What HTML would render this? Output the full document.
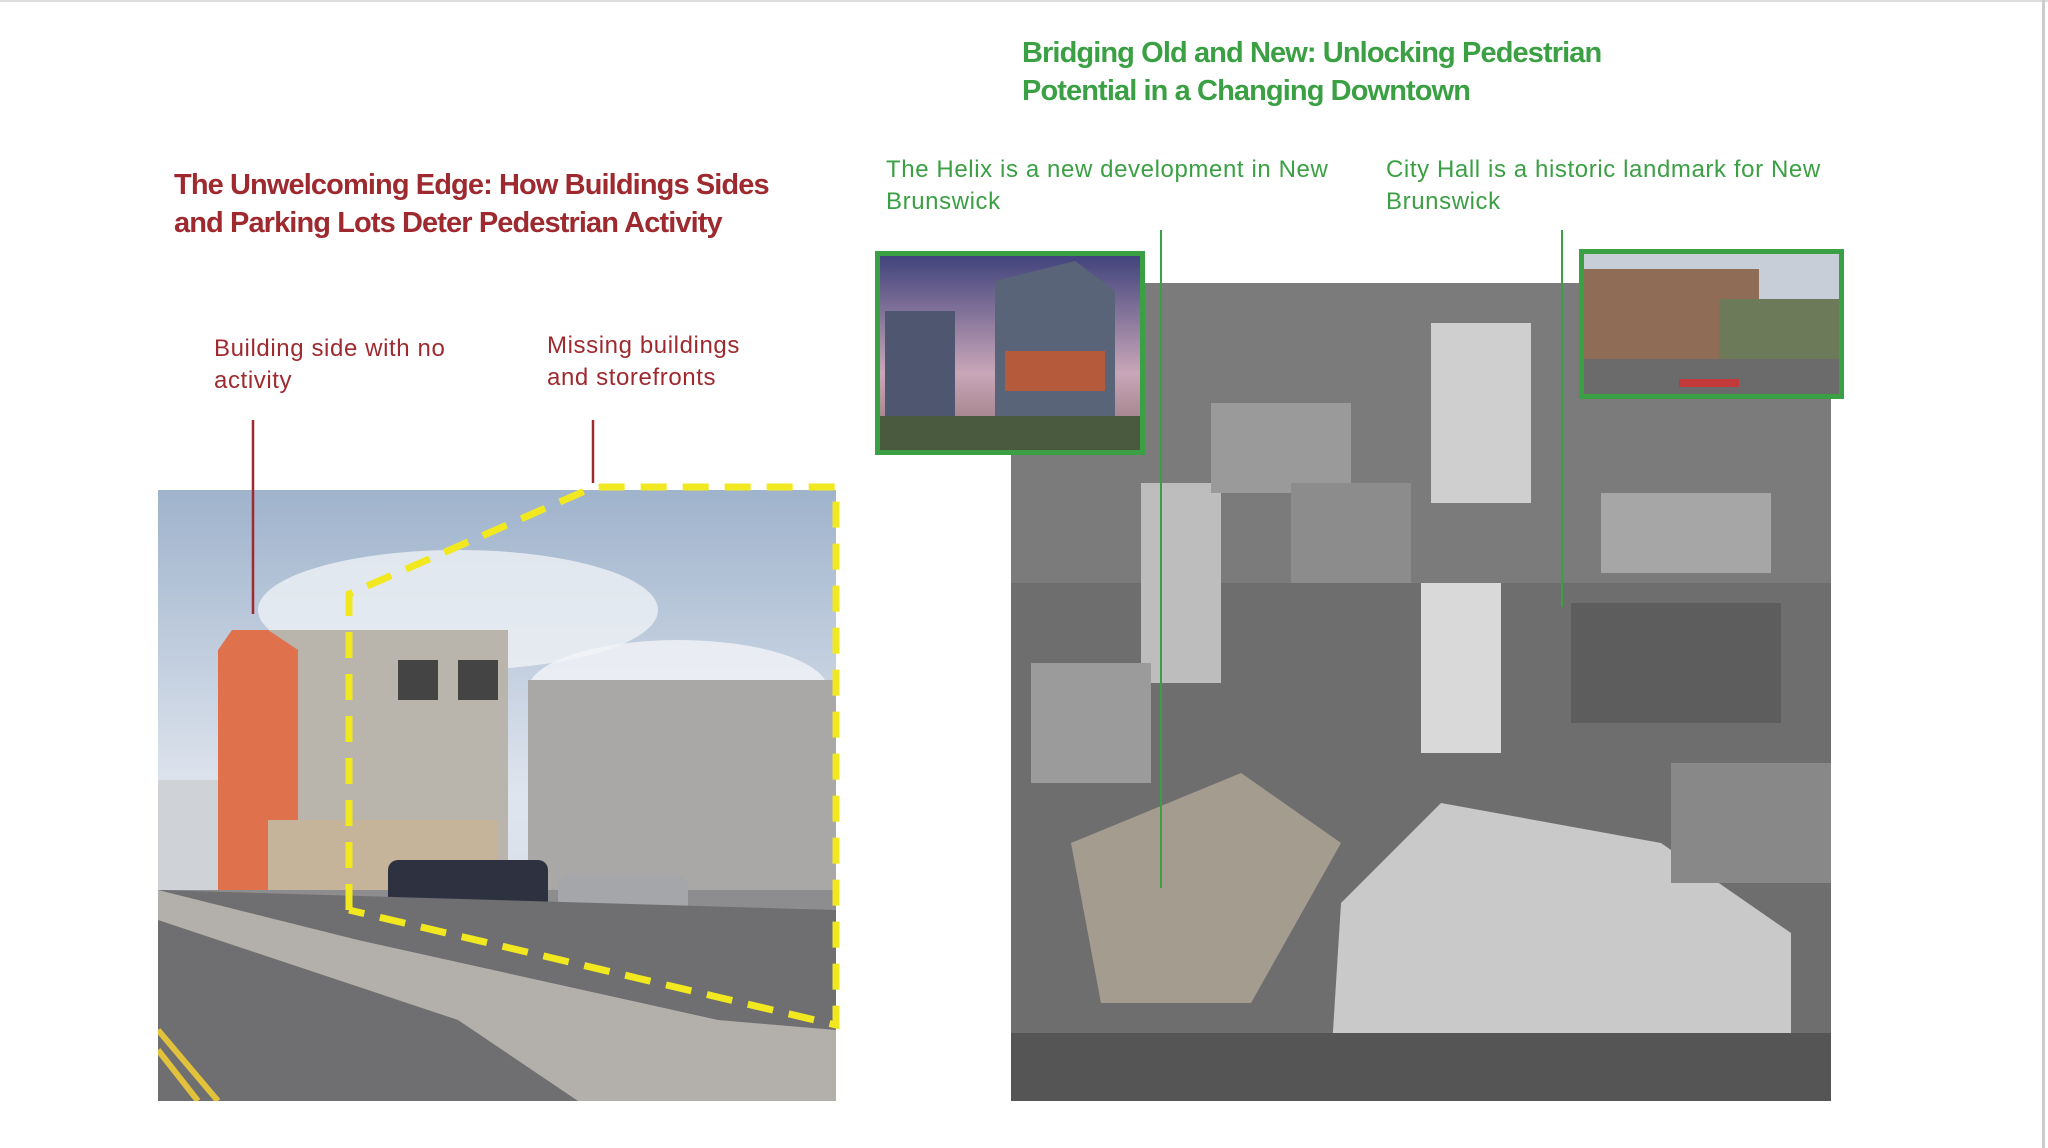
<!DOCTYPE html>
<html><head><meta charset="utf-8"><style>
body{margin:0;width:2048px;height:1148px;background:#fff;position:relative;overflow:hidden;font-family:"Liberation Sans",sans-serif}
.a{position:absolute}
.red{color:#9e2a2f}.grn{color:#3aa043}
.t{font-weight:bold;font-size:29px;line-height:38px;letter-spacing:-0.9px}
.l{font-size:24px;line-height:32px;letter-spacing:0.6px}
</style></head><body>
<div class="a" style="left:0;top:0;width:2048px;height:2px;background:#ddd"></div>
<div class="a" style="left:2042px;top:0;width:3px;height:1148px;background:#ccc"></div>

<div class="a t red" style="left:174px;top:166px">The Unwelcoming Edge: How Buildings Sides<br>and Parking Lots Deter Pedestrian Activity</div>
<div class="a l red" style="left:214px;top:333px">Building side with no<br>activity</div>
<div class="a l red" style="left:547px;top:330px">Missing buildings<br>and storefronts</div>

<div class="a t grn" style="left:1022px;top:34px">Bridging Old and New: Unlocking Pedestrian<br>Potential in a Changing Downtown</div>
<div class="a l grn" style="left:886px;top:154px">The Helix is a new development in New<br>Brunswick</div>
<div class="a l grn" style="left:1386px;top:154px">City Hall is a historic landmark for New<br>Brunswick</div>

<!-- left photo -->
<svg class="a" style="left:158px;top:490px" width="678" height="611" viewBox="0 0 678 611">
<defs><linearGradient id="sky" x1="0" y1="0" x2="0" y2="1"><stop offset="0" stop-color="#9fb3cc"/><stop offset="0.5" stop-color="#dfe5ee"/><stop offset="1" stop-color="#c9d2de"/></linearGradient></defs>
<rect width="678" height="611" fill="url(#sky)"/>
<ellipse cx="300" cy="120" rx="200" ry="60" fill="#eef1f5" opacity=".8"/>
<ellipse cx="520" cy="200" rx="150" ry="50" fill="#f2f4f7" opacity=".8"/>
<rect x="0" y="290" width="100" height="200" fill="#cfd2d6"/>
<rect x="110" y="140" width="240" height="280" fill="#b9b5ad"/>
<rect x="240" y="170" width="40" height="40" fill="#444"/><rect x="300" y="170" width="40" height="40" fill="#444"/>
<polygon points="74,140 110,140 140,160 140,420 60,420 60,160" fill="#e0714d"/>
<rect x="110" y="330" width="230" height="90" fill="#c6b49a"/>
<rect x="370" y="190" width="308" height="230" fill="#a9a8a6"/>
<rect x="0" y="400" width="678" height="60" fill="#8d8d8f"/>
<rect x="230" y="370" width="160" height="60" rx="10" fill="#2e3140"/>
<rect x="400" y="385" width="130" height="50" rx="12" fill="#a5a6aa"/>
<polygon points="0,400 678,420 678,611 0,611" fill="#6f6f71"/>
<polygon points="0,400 200,450 560,530 678,540 678,611 420,611 300,530 0,430" fill="#b3b0ab"/>
<line x1="0" y1="540" x2="60" y2="611" stroke="#e2c23a" stroke-width="6"/>
<line x1="0" y1="560" x2="40" y2="611" stroke="#e2c23a" stroke-width="6"/>
</svg>
<svg class="a" style="left:0;top:0" width="2048" height="1148">
<line x1="253" y1="420" x2="253" y2="614" stroke="#9e2a2f" stroke-width="2.5"/>
<line x1="593" y1="420" x2="593" y2="483" stroke="#9e2a2f" stroke-width="2.5"/>
<polyline points="349,910 349,594 594,487 836,487 836,1025 349,910" fill="none" stroke="#f2e81f" stroke-width="7" stroke-dasharray="26,16"/>
</svg>

<!-- aerial -->
<svg class="a" style="left:1011px;top:283px" width="820" height="818" viewBox="0 0 820 818">
<rect width="820" height="818" fill="#6e6e6e"/>
<rect x="0" y="0" width="820" height="300" fill="#7b7b7b"/>
<rect x="420" y="40" width="100" height="180" fill="#cfcfcf"/>
<rect x="130" y="200" width="80" height="200" fill="#bdbdbd"/>
<rect x="410" y="300" width="80" height="170" fill="#d9d9d9"/>
<rect x="200" y="120" width="140" height="90" fill="#9a9a9a"/>
<rect x="590" y="210" width="170" height="80" fill="#a6a6a6"/>
<rect x="280" y="200" width="120" height="100" fill="#8c8c8c"/>
<rect x="20" y="380" width="120" height="120" fill="#9b9b9b"/>
<rect x="560" y="320" width="210" height="120" fill="#5d5d5d"/>
<polygon points="60,560 230,490 330,560 240,720 90,720" fill="#a59c90"/>
<polygon points="330,620 430,520 650,560 780,650 780,780 320,780" fill="#c9c9c9"/>
<rect x="0" y="750" width="820" height="68" fill="#555"/>
<rect x="660" y="480" width="160" height="120" fill="#888"/>
</svg>
<div class="a" style="left:1160px;top:230px;width:2px;height:658px;background:#3aa043"></div>
<div class="a" style="left:1561px;top:230px;width:2px;height:377px;background:#3aa043"></div>

<!-- helix inset -->
<svg class="a" style="left:875px;top:251px" width="270" height="204" viewBox="0 0 270 204">
<defs><linearGradient id="hs" x1="0" y1="0" x2="0" y2="1"><stop offset="0" stop-color="#3b3f7a"/><stop offset="0.6" stop-color="#c9a6b8"/><stop offset="1" stop-color="#8b6d70"/></linearGradient></defs>
<rect width="270" height="204" fill="url(#hs)"/>
<rect x="10" y="60" width="70" height="110" fill="#4e5670"/>
<polygon points="120,30 200,10 240,40 240,170 120,170" fill="#5a6478"/>
<rect x="130" y="100" width="100" height="40" fill="#b65a3c"/>
<rect x="0" y="165" width="270" height="39" fill="#4a5a3e"/>
<rect x="2.5" y="2.5" width="265" height="199" fill="none" stroke="#3aa043" stroke-width="5"/>
</svg>
<!-- city hall inset -->
<svg class="a" style="left:1579px;top:249px" width="265" height="150" viewBox="0 0 265 150">
<rect width="265" height="150" fill="#c8ced8"/>
<rect x="0" y="20" width="180" height="100" fill="#8f6c55"/>
<rect x="140" y="50" width="125" height="70" fill="#6d7a5a"/>
<rect x="0" y="110" width="265" height="40" fill="#6b6b6b"/>
<rect x="100" y="130" width="60" height="8" fill="#c23a3a"/>
<rect x="2.5" y="2.5" width="260" height="145" fill="none" stroke="#3aa043" stroke-width="5"/>
</svg>
</body></html>
